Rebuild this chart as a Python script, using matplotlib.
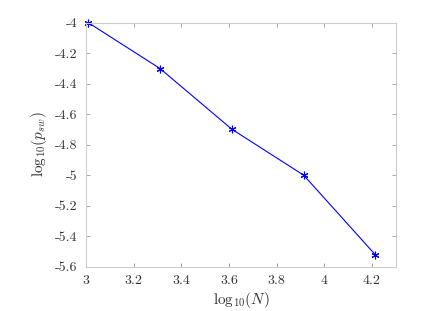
import matplotlib
matplotlib.use("Agg")
import matplotlib.pyplot as plt

# log10(N) and log10(p_sw)
log_n = [3.0103, 3.3113, 3.6124, 3.9134, 4.2144]
log_p = [-4.0, -4.301, -4.699, -5.0, -5.523]

xticks = [3, 3.2, 3.4, 3.6, 3.8, 4, 4.2]
xticklabels = ["3", "3.2", "3.4", "3.6", "3.8", "4", "4.2"]
yticks = [-5.6, -5.4, -5.2, -5, -4.8, -4.6, -4.4, -4.2, -4]
yticklabels = ["-5.6", "-5.4", "-5.2", "-5", "-4.8", "-4.6", "-4.4", "-4.2", "-4"]

plt.rcParams['font.family'] = ['cmr10', 'DejaVu Serif']
plt.rcParams['mathtext.fontset'] = 'cm'

fig = plt.figure(figsize=(4.36, 3.11), dpi=100)
ax = fig.add_axes([0.197, 0.1425, 0.711, 0.7845])

ax.plot(log_n, log_p, '-', color='blue', linewidth=0.8,
        marker=(6, 2, 0), markersize=5.5, markeredgewidth=0.8, clip_on=False)

ax.set_xlim(3, 4.3)
ax.set_ylim(-5.6, -4)
ax.set_xticks(xticks)
ax.set_xticklabels(xticklabels)
ax.set_yticks(yticks)
ax.set_yticklabels(yticklabels)

gray = '#cccccc'
for s in ax.spines.values():
    s.set_color(gray)
    s.set_linewidth(0.8)
ax.tick_params(direction='in', length=3, width=0.6, color='#999999',
               top=True, right=True, labelsize=10, labelcolor='#333333', pad=6)

ax.set_xlabel(r'$\mathrm{log}_{10}(N)$', fontsize=11, color='#333333', labelpad=2)
ax.set_ylabel(r'$\mathrm{log}_{10}(p_{sw})$', fontsize=11, color='#333333', labelpad=4)

fig.savefig("out.png", dpi=100)
